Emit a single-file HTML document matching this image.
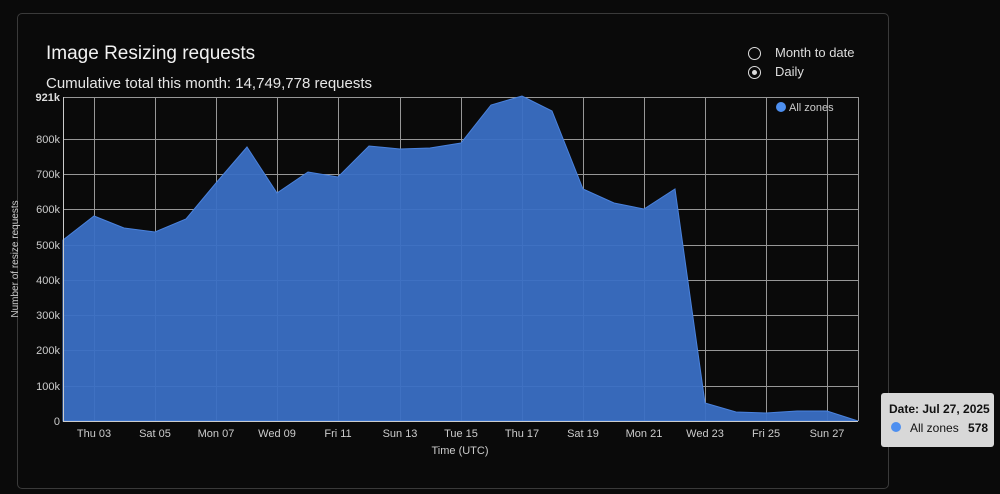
<!DOCTYPE html>
<html><head><style>
body{margin:0;width:1000px;height:494px;background:#0a0a0a;overflow:hidden;font-family:"Liberation Sans",sans-serif;color:#eee;position:relative}
.card{position:absolute;left:17px;top:13px;width:870px;height:474px;border:1px solid #3a3a3a;border-radius:5px}
.t{position:absolute;left:46px;top:43px;font-size:19px;color:#f2f2f2}
.s{position:absolute;left:46px;top:75px;font-size:15px;color:#e6e6e6}
.r{position:absolute;left:748px;font-size:13px;color:#ddd}
.r i{display:inline-block;width:13px;height:13px;border:1px solid #ddd;border-radius:50%;vertical-align:-3px;margin-right:14px;box-sizing:border-box;position:relative}
.tip{position:absolute;left:881px;top:393px;width:113px;height:54px;background:#d8d8d8;border-radius:3px;color:#111;font-size:12px}
</style></head><body>
<div class="card"></div>
<div class="t">Image Resizing requests</div>
<div class="s">Cumulative total this month: 14,749,778 requests</div>
<div class="r" style="top:45px"><i></i>Month to date</div>
<div class="r" style="top:64px"><i><b style="position:absolute;left:3px;top:3px;width:5px;height:5px;background:#ddd;border-radius:50%"></b></i>Daily</div>
<svg width="1000" height="494" style="position:absolute;left:0;top:0" font-family="Liberation Sans" font-size="11" fill="#ccc">
<g stroke="#bbb" stroke-width="1" opacity="0.8">
<line x1="63" x2="858" y1="97.5" y2="97.5"/><line x1="63" x2="858" y1="139.5" y2="139.5"/><line x1="63" x2="858" y1="174.5" y2="174.5"/><line x1="63" x2="858" y1="209.5" y2="209.5"/><line x1="63" x2="858" y1="245.5" y2="245.5"/><line x1="63" x2="858" y1="280.5" y2="280.5"/><line x1="63" x2="858" y1="315.5" y2="315.5"/><line x1="63" x2="858" y1="350.5" y2="350.5"/><line x1="63" x2="858" y1="386.5" y2="386.5"/>
<line x1="63.5" x2="63.5" y1="97" y2="421"/><line x1="858.5" x2="858.5" y1="97" y2="421"/>
<line x1="94.5" x2="94.5" y1="97" y2="421"/><line x1="155.5" x2="155.5" y1="97" y2="421"/><line x1="216.5" x2="216.5" y1="97" y2="421"/><line x1="277.5" x2="277.5" y1="97" y2="421"/><line x1="338.5" x2="338.5" y1="97" y2="421"/><line x1="400.5" x2="400.5" y1="97" y2="421"/><line x1="461.5" x2="461.5" y1="97" y2="421"/><line x1="522.5" x2="522.5" y1="97" y2="421"/><line x1="583.5" x2="583.5" y1="97" y2="421"/><line x1="644.5" x2="644.5" y1="97" y2="421"/><line x1="705.5" x2="705.5" y1="97" y2="421"/><line x1="766.5" x2="766.5" y1="97" y2="421"/><line x1="827.5" x2="827.5" y1="97" y2="421"/>
</g>
<path d="M63,240 L94,216 124,228 155,232 186,219 216,183 247,147 277,193 308,172 338,177 369,146 400,149 430,148 461,143 491,105 522,96 552,111 583,189 614,203 644,209 675,189 705,403 736,412 766,413 797,411 827,411 858,421 L63,421Z" fill="#3a6fc4" fill-opacity="0.95" stroke="#4a82dd"/>
<line x1="63" x2="858" y1="421.5" y2="421.5" stroke="#ccc"/>
<line x1="63.5" x2="63.5" y1="97" y2="421" stroke="#ccc"/>
<g text-anchor="end">
<text x="60" y="101" font-weight="bold" fill="#ddd">921k</text><text x="60" y="143">800k</text><text x="60" y="178">700k</text><text x="60" y="213">600k</text><text x="60" y="249">500k</text><text x="60" y="284">400k</text><text x="60" y="319">300k</text><text x="60" y="354">200k</text><text x="60" y="390">100k</text><text x="60" y="425">0</text>
</g>
<g text-anchor="middle">
<text x="94" y="437">Thu 03</text><text x="155" y="437">Sat 05</text><text x="216" y="437">Mon 07</text><text x="277" y="437">Wed 09</text><text x="338" y="437">Fri 11</text><text x="400" y="437">Sun 13</text><text x="461" y="437">Tue 15</text><text x="522" y="437">Thu 17</text><text x="583" y="437">Sat 19</text><text x="644" y="437">Mon 21</text><text x="705" y="437">Wed 23</text><text x="766" y="437">Fri 25</text><text x="827" y="437">Sun 27</text>
<text x="460" y="454">Time (UTC)</text>
<text transform="translate(18,259) rotate(-90)" font-size="10">Number of resize requests</text>
</g>
<circle cx="781" cy="107" r="5" fill="#4d8ff0"/><text x="789" y="111">All zones</text>
</svg>
<div class="tip"><div style="position:absolute;left:8px;top:9px;font-weight:bold">Date: Jul 27, 2025</div>
<div style="position:absolute;left:10px;top:29px;width:10px;height:10px;border-radius:50%;background:#4d8ff0"></div>
<div style="position:absolute;left:29px;top:28px">All zones <b style="margin-left:6px">578</b></div></div>
</body></html>
